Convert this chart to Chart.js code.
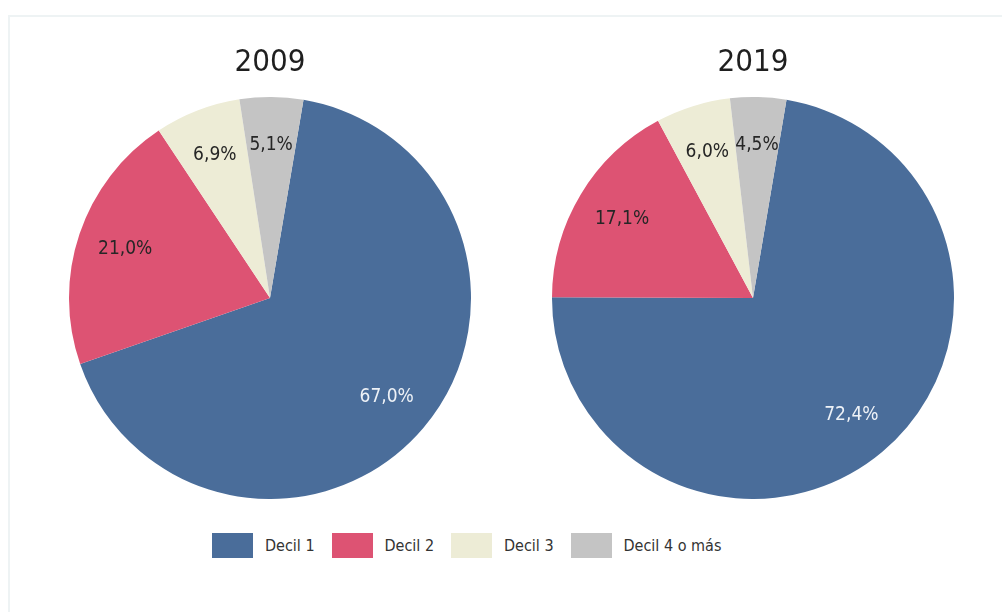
<!DOCTYPE html>
<html>
<head>
<meta charset="utf-8">
<script src="https://cdn.jsdelivr.net/npm/chart.js@4.4.1/dist/chart.umd.min.js"></script>
<style>
  html, body { margin: 0; padding: 0; background: #fff; }
  body { width: 1002px; height: 612px; position: relative; overflow: hidden;
         font-family: 'DejaVu Sans Condensed', sans-serif; }
  .frame { position: absolute; left: 8px; top: 15px; right: -4px; bottom: -4px;
           border-top: 2px solid #eef3f4; border-left: 2px solid #eef3f4; }
  .pie { position: absolute; top: 30px; width: 402px; height: 469px; }
  #legend { position: absolute; left: 212px; top: 533px; display: flex; align-items: center; }
  .item { display: flex; align-items: center; width: 119.5px; }
  .box { width: 41px; height: 25px; margin-right: 12px; flex: none; }
  .lbl { font-size: 16px; color: #333; white-space: nowrap; }
</style>
</head>
<body>
<div class="frame"></div>
<div class="pie" style="left:69px"><canvas id="c2009"></canvas></div>
<div class="pie" style="left:552px"><canvas id="c2019"></canvas></div>
<div id="legend"></div>
<script>
const categories = ['Decil 1', 'Decil 2', 'Decil 3', 'Decil 4 o más'];
const values2009 = [67.0, 21.0, 6.9, 5.1];
const values2019 = [72.4, 17.1, 6.0, 4.5];
const sliceColors = ['#4a6d9a', '#dd5373', '#edecd6', '#c4c4c4'];
const labelColors = ['#eef2f7', '#262626', '#262626', '#262626'];
const FONT = "'DejaVu Sans Condensed', sans-serif";

function formatPct(v) {
    return v.toFixed(1).replace('.', ',') + '%';
}

const sliceLabels = {
    id: 'sliceLabels',
    afterDatasetsDraw(chart) {
        const ctx = chart.ctx;
        const data = chart.data.datasets[0].data;
        chart.getDatasetMeta(0).data.forEach((arc, i) => {
            const p = arc.getProps(['x', 'y', 'startAngle', 'endAngle', 'outerRadius'], true);
            const mid = (p.startAngle + p.endAngle) / 2;
            const r = p.outerRadius * 0.76;
            ctx.save();
            ctx.font = '19px ' + FONT;
            ctx.fillStyle = labelColors[i];
            ctx.textAlign = 'center';
            ctx.textBaseline = 'middle';
            ctx.fillText(formatPct(data[i]), p.x + Math.cos(mid) * r, p.y + Math.sin(mid) * r);
            ctx.restore();
        });
    }
};

function pieConfig(year, values) {
    return {
        type: 'pie',
        data: {
            labels: categories,
            datasets: [{
                data: values,
                backgroundColor: sliceColors,
                borderWidth: 0
            }]
        },
        options: {
            responsive: true,
            maintainAspectRatio: false,
            animation: false,
            rotation: 9.6,
            layout: { padding: 0 },
            plugins: {
                legend: { display: false },
                tooltip: { enabled: false },
                title: {
                    display: true,
                    text: year,
                    color: '#1f1f1f',
                    font: { family: FONT, size: 31, weight: 'normal', lineHeight: 1.2 },
                    padding: { top: 14, bottom: 15.8 }
                }
            }
        },
        plugins: [sliceLabels]
    };
}

const chart2009 = new Chart(document.getElementById('c2009'), pieConfig('2009', values2009));
const chart2019 = new Chart(document.getElementById('c2019'), pieConfig('2019', values2019));

// legend built from the chart's own legend items
const legendEl = document.getElementById('legend');
Chart.overrides.pie.plugins.legend.labels.generateLabels(chart2009).forEach(item => {
    const el = document.createElement('div');
    el.className = 'item';
    el.innerHTML = '<div class="box" style="background:' + item.fillStyle + '"></div>' +
                   '<span class="lbl">' + item.text + '</span>';
    legendEl.appendChild(el);
});
</script>
</body>
</html>
